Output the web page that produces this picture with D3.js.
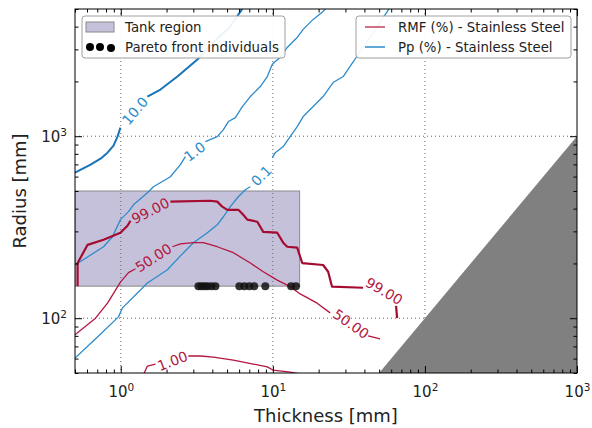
<!DOCTYPE html>
<html>

<head>
    <meta charset=utf-8 />
    <script src="https://cdn.jsdelivr.net/npm/d3@7"></script>
    <title>tank contours</title>
    <style>
        html,
        body {
            margin: 0;
            padding: 0;
            background: #fff;
        }

        svg {
            display: block;
            font-family: 'DejaVu Sans', sans-serif;
        }
    </style>
</head>

<body>
    <div id="chart"></div>
    <script>
        // contour lines as [thickness mm, radius mm], null = gap left for a label
        var rmf99 = [[0.52, 150], [0.52, 201], [0.605, 253], [0.77, 270], [0.995, 295], [1.107, 322], [1.158, 343], null,
            [2.12, 437], [3.88, 442], [4.31, 437], [4.65, 410], [5.02, 394], [5.93, 394], [6.39, 370], [6.79, 348],
            [7.9, 339], [8.65, 298], [10.69, 295], [11.7, 260], [12.43, 247], [14.46, 244], [15.6, 201], [21.4, 196],
            [23.1, 180], [24.5, 149], [39.2, 147], null, [64.6, 117], [65.6, 100]];
        var rmf50 = [[0.5, 81], [0.682, 100], [0.818, 121], [0.995, 158], [1.124, 178], [1.249, 187], null,
            [2.185, 247], [2.466, 256], [3.0, 260], [3.49, 260], [4.31, 247], [5.5, 229], [7.11, 201], [8.65, 180],
            [10.69, 162], [13.0, 149], [15.13, 136], [19.56, 121], [23.8, 107], null, [42.3, 80], [50.7, 77]];
        var rmf1 = [[1.41, 49], [1.497, 54.6], [1.69, 56], null, [2.78, 62], [3.34, 62], [4.06, 61.2], [5.5, 58.9],
            [7.43, 56], [9.19, 54], [10.0, 51.9], [13.0, 50.6], [15.13, 49.4]];

        var pp10 = [[0.5, 630], [0.633, 698], [0.736, 753], [0.818, 812], [0.896, 888], [0.951, 995], [0.995, 1115], null,
            [1.497, 1652], [1.823, 1805], [2.357, 2128], [3.19, 2640], [4.06, 3274], [5.25, 4012], [6.39, 5104]];
        var pp1 = [[0.5, 196], [0.77, 247], [0.882, 280], [0.995, 348], [1.124, 385], [1.212, 420], [1.497, 489],
            [1.64, 528], [2.12, 599], [2.466, 698], [2.66, 772], null,
            [3.6, 934], [4.31, 995], [4.73, 1087], [5.1, 1204], [5.67, 1266], [6.3, 1455], [7.11, 1652], [8.27, 1875],
            [9.19, 2128], [9.91, 2478], [10.37, 2574], [11.19, 2708], [12.43, 3073], [14.46, 3488], [15.83, 3862],
            [18.42, 4383], [21.4, 4850], [23.8, 5370]];
        var pp01 = [[0.5, 60.4], [0.703, 78.9], [0.966, 101.7], [1.026, 114], [1.497, 156], [2.026, 184.5], [2.466, 220],
            [3.0, 260], [3.71, 295], [4.31, 326], [4.73, 361], [5.25, 410], [5.93, 465], [6.59, 508], [7.11, 528], null,
            [9.91, 762], [10.37, 812], [11.7, 877], [13.0, 995], [14.46, 1129], [15.83, 1282], [18.42, 1455],
            [21.4, 1652], [24.9, 1972], [29.0, 2128], [32.2, 2416], [36.4, 2812], [44.9, 3625], [59.0, 5104]];

        // contour labels: text, thickness, radius, angle (deg)
        var rmfLabels = [['99.00', 1.567, 390, -27], ['50.00', 1.64, 215, -33], ['1.00', 2.185, 58.2, -21],
            ['99.00', 53.9, 141, 30], ['50.00', 32.7, 93, 35]];
        var ppLabels = [['10.0', 1.24, 1380, -50], ['1.0', 3.06, 823, -37], ['0.1', 8.39, 607, -45]];

        var tankThickness = [0.5, 15];
        var tankRadius = [150, 500];

        var paretoThickness = [3.24, 3.39, 3.55, 3.71, 3.94, 4.19, 6.02, 6.49, 7.0, 7.54, 8.92, 13.19, 14.2];
        var paretoRadius = [150, 150, 150, 150, 150, 150, 150, 150, 150, 150, 150, 150, 150];

        // thickness = radius limit, everything right of it is shaded
        var limitLine = [50, 1000];

        var xMajor = [1, 10, 100, 1000];
        var xMinor = [0.5, 0.6, 0.7, 0.8, 0.9, 2, 3, 4, 5, 6, 7, 8, 9, 20, 30, 40, 50, 60, 70, 80, 90,
            200, 300, 400, 500, 600, 700, 800, 900];
        var yMajor = [100, 1000];
        var yMinor = [50, 60, 70, 80, 90, 200, 300, 400, 500, 600, 700, 800, 900, 2000, 3000, 4000, 5000];
    </script>
    <script>
        var W = 592, H = 428;
        var pL = 75, pR = 577, pT = 9, pB = 373;

        var red = '#b3163f', redDark = '#a50a30';
        var blue = '#2b8bcb', blueDark = '#1874b6';

        var svg = d3.select('#chart').append('svg')
            .attr('width', W)
            .attr('height', H);

        svg.append('rect').attr('width', W).attr('height', H).attr('fill', '#fff');

        var x = d3.scaleLog().domain([0.5, 1000]).range([pL, pR]);
        var y = d3.scaleLog().domain([50, 5000]).range([pB, pT]);

        svg.append('clipPath').attr('id', 'plot-clip')
            .append('rect')
            .attr('x', pL).attr('y', pT)
            .attr('width', pR - pL).attr('height', pB - pT);

        var plot = svg.append('g').attr('clip-path', 'url(#plot-clip)');

        // tank region
        plot.append('rect')
            .attr('x', x(tankThickness[0]))
            .attr('y', y(tankRadius[1]))
            .attr('width', x(tankThickness[1]) - x(tankThickness[0]))
            .attr('height', y(tankRadius[0]) - y(tankRadius[1]))
            .attr('fill', '#5c4d96')
            .attr('fill-opacity', 0.35)
            .attr('stroke', '#8a8a8a')
            .attr('stroke-width', 1);

        // grid
        plot.selectAll('.xgrid').data(xMajor.slice(0, 3))
            .enter().append('line')
            .attr('x1', d => x(d)).attr('x2', d => x(d))
            .attr('y1', pT).attr('y2', pB)
            .attr('stroke', '#666').attr('stroke-dasharray', '1,3');
        plot.selectAll('.ygrid').data(yMajor)
            .enter().append('line')
            .attr('y1', d => y(d)).attr('y2', d => y(d))
            .attr('x1', pL).attr('x2', pR)
            .attr('stroke', '#666').attr('stroke-dasharray', '1,3');

        var line = d3.line()
            .defined(d => d !== null)
            .x(d => x(d[0]))
            .y(d => y(d[1]));

        var contours = [
            { pts: pp01, color: blue, w: 1.3 },
            { pts: pp1, color: blue, w: 1.3 },
            { pts: pp10, color: blueDark, w: 2 },
            { pts: rmf1, color: red, w: 1.3 },
            { pts: rmf50, color: red, w: 1.3 },
            { pts: rmf99, color: redDark, w: 2.2 }
        ];

        plot.selectAll('.contour').data(contours)
            .enter().append('path')
            .attr('class', 'contour')
            .attr('fill', 'none')
            .attr('stroke', d => d.color)
            .attr('stroke-width', d => d.w)
            .attr('stroke-linejoin', 'round')
            .attr('d', d => line(d.pts));

        function drawLabels(labels, color) {
            plot.selectAll(null).data(labels)
                .enter().append('text')
                .attr('transform', d => 'translate(' + x(d[1]) + ',' + y(d[2]) + ') rotate(' + d[3] + ')')
                .attr('text-anchor', 'middle')
                .attr('dy', '0.36em')
                .attr('font-size', '14px')
                .attr('fill', color)
                .text(d => d[0]);
        }
        drawLabels(rmfLabels, red);
        drawLabels(ppLabels, blue);

        // pareto front individuals
        plot.selectAll('.pareto').data(paretoThickness)
            .enter().append('circle')
            .attr('cx', d => x(d))
            .attr('cy', (d, i) => y(paretoRadius[i]))
            .attr('r', 4)
            .attr('fill', '#111')
            .attr('fill-opacity', 0.85);

        // radius smaller than thickness
        plot.append('path')
            .attr('d', 'M' + x(limitLine[0]) + ',' + y(limitLine[0]) +
                'L' + x(limitLine[1]) + ',' + y(limitLine[1]) +
                'L' + x(limitLine[1]) + ',' + y(limitLine[0]) + 'Z')
            .attr('fill', '#808080');

        // axes, ticks inside on all sides
        function sup(sel) {
            sel.selectAll('.tick text').each(function (d) {
                var t = d3.select(this).text(null);
                t.append('tspan').text('10');
                t.append('tspan').attr('dy', '-0.55em').attr('font-size', '10.5px')
                    .text(Math.round(Math.log10(d)));
            });
        }

        function axisStyle(g) {
            g.attr('font-size', 15).attr('font-family', 'DejaVu Sans, sans-serif');
            g.select('.domain').remove();
            g.selectAll('.tick line').attr('stroke', '#000');
            g.selectAll('.tick text').attr('fill', '#222');
        }

        var gx = svg.append('g').attr('transform', 'translate(0,' + pB + ')');
        gx.call(d3.axisBottom(x).tickValues(xMinor).tickSize(-3.5).tickFormat('')).call(axisStyle);
        var gx2 = svg.append('g').attr('transform', 'translate(0,' + pB + ')');
        gx2.call(d3.axisBottom(x).tickValues(xMajor).tickSize(-7).tickPadding(13)).call(axisStyle).call(sup);

        var gxt = svg.append('g').attr('transform', 'translate(0,' + pT + ')');
        gxt.call(d3.axisTop(x).tickValues(xMinor).tickSize(-3.5).tickFormat('')).call(axisStyle);
        gxt.append('g').call(d3.axisTop(x).tickValues(xMajor).tickSize(-7).tickFormat('')).call(axisStyle);

        var gy = svg.append('g').attr('transform', 'translate(' + pL + ',0)');
        gy.call(d3.axisLeft(y).tickValues(yMinor).tickSize(-3.5).tickFormat('')).call(axisStyle);
        var gy2 = svg.append('g').attr('transform', 'translate(' + pL + ',0)');
        gy2.call(d3.axisLeft(y).tickValues(yMajor).tickSize(-7).tickPadding(8)).call(axisStyle).call(sup);

        var gyr = svg.append('g').attr('transform', 'translate(' + pR + ',0)');
        gyr.call(d3.axisRight(y).tickValues(yMinor).tickSize(-3.5).tickFormat('')).call(axisStyle);
        gyr.append('g').call(d3.axisRight(y).tickValues(yMajor).tickSize(-7).tickFormat('')).call(axisStyle);

        svg.append('rect')
            .attr('x', pL).attr('y', pT)
            .attr('width', pR - pL).attr('height', pB - pT)
            .attr('fill', 'none').attr('stroke', '#000').attr('stroke-width', 1);

        svg.append('text')
            .attr('x', (pL + pR) / 2).attr('y', 422)
            .attr('text-anchor', 'middle')
            .attr('font-size', '18px').attr('fill', '#222')
            .text('Thickness [mm]');

        svg.append('text')
            .attr('transform', 'translate(26,' + (pT + pB) / 2 + ') rotate(-90)')
            .attr('text-anchor', 'middle')
            .attr('font-size', '18px').attr('fill', '#222')
            .text('Radius [mm]');

        // legends
        function legendBox(x0, x1) {
            svg.append('rect')
                .attr('x', x0).attr('y', 16)
                .attr('width', x1 - x0).attr('height', 42)
                .attr('rx', 3)
                .attr('fill', '#fff').attr('fill-opacity', 0.92)
                .attr('stroke', '#a0a0a0').attr('stroke-width', 1);
        }

        function legendText(tx, ty, s) {
            svg.append('text')
                .attr('x', tx).attr('y', ty).attr('dy', '0.36em')
                .attr('font-size', '13.3px').attr('fill', '#222')
                .text(s);
        }

        legendBox(82, 285);
        svg.append('rect')
            .attr('x', 86).attr('y', 22).attr('width', 28).attr('height', 10)
            .attr('fill', '#5c4d96').attr('fill-opacity', 0.35)
            .attr('stroke', '#8a8a8a');
        legendText(125, 27, 'Tank region');
        svg.selectAll('.ldot').data([[90, 47], [100, 47], [111, 48]])
            .enter().append('circle')
            .attr('cx', d => d[0]).attr('cy', d => d[1]).attr('r', 4)
            .attr('fill', '#000');
        legendText(125, 47, 'Pareto front individuals');

        legendBox(356, 571);
        svg.append('line').attr('x1', 365).attr('x2', 385).attr('y1', 27).attr('y2', 27)
            .attr('stroke', '#c2405f').attr('stroke-width', 1.5);
        legendText(398, 27, 'RMF (%) - Stainless Steel');
        svg.append('line').attr('x1', 365).attr('x2', 385).attr('y1', 47).attr('y2', 47)
            .attr('stroke', blue).attr('stroke-width', 1.5);
        legendText(398, 47, 'Pp (%) - Stainless Steel');
    </script>
</body>

</html>
